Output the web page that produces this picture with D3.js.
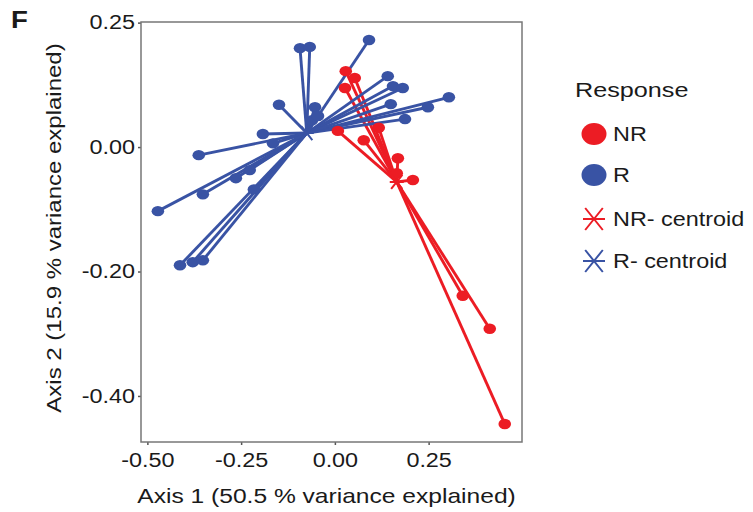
<!DOCTYPE html>
<html>
<head>
<meta charset="utf-8">
<script src="https://cdn.jsdelivr.net/npm/d3@7"></script>
<style>
  body { margin: 0; background: #fff; }
  text { font-family: "Liberation Sans", Arial, Helvetica, sans-serif; fill: #1a1a1a; }
</style>
</head>
<body>
<div id="chart"></div>
<script>
// PCoA ordination, points joined to their group centroid

// R (responders) coordinates
var rX = [-0.093, -0.067, -0.149, -0.053, -0.192, -0.165, -0.363, -0.227, -0.264, -0.352,
          -0.472, -0.216, -0.413, -0.379, -0.352, 0.091, 0.141, 0.155, 0.181, 0.304,
          0.248, 0.149, 0.187, -0.061, -0.045];
var rY = [0.159, 0.161, 0.068, 0.064, 0.021, 0.006, -0.013, -0.037, -0.050, -0.076,
          -0.103, -0.068, -0.190, -0.185, -0.182, 0.172, 0.114, 0.098, 0.095, 0.080,
          0.064, 0.069, 0.045, 0.043, 0.050];

// NR (non responders) coordinates
var nrX = [0.029, 0.053, 0.027, 0.117, 0.008, 0.077, 0.168, 0.165, 0.208, 0.341, 0.413, 0.453];
var nrY = [0.122, 0.111, 0.095, 0.031, 0.026, 0.011, -0.018, -0.042, -0.053, -0.239, -0.292, -0.445];

// centroids
var rCentroid = [-0.075, 0.0225];
var nrCentroid = [0.165, -0.056];

var xTickValues = [-0.5, -0.25, 0, 0.25];
var xTickLabels = ["-0.50", "-0.25", "0.00", "0.25"];
var yTickValues = [0.2, 0, -0.2, -0.4];
var yTickLabels = ["0.25", "0.00", "-0.20", "-0.40"];

var legendLabels = ["NR", "R", "NR- centroid", "R- centroid"];

var red = "#ec1c24";
var blue = "#3953a4";
var sx = 1.2; // text in the figure is stretched horizontally

var svgWidth = 753;
var svgHeight = 512;
var margin = {top: 22, left: 141};
var width = 381;
var height = 420;

var svg = d3.select("#chart")
  .append("svg")
  .attr("width", svgWidth)
  .attr("height", svgHeight);

var chartGroup = svg.append("g")
  .attr("transform", `translate(${margin.left}, ${margin.top})`);

var xScale = d3.scaleLinear().domain([-0.517, 0.499]).range([0, width]);
var yScale = d3.scaleLinear().domain([0.201, -0.474]).range([0, height]);

// axes
var bottomAxis = d3.axisBottom(xScale)
  .tickValues(xTickValues)
  .tickFormat((d, i) => xTickLabels[i])
  .tickSize(3).tickPadding(4);
var leftAxis = d3.axisLeft(yScale)
  .tickValues(yTickValues)
  .tickFormat((d, i) => yTickLabels[i])
  .tickSize(3).tickPadding(3);

var xAxis = chartGroup.append("g")
  .attr("transform", `translate(0, ${height})`)
  .call(bottomAxis);
var yAxis = chartGroup.append("g").call(leftAxis);

[xAxis, yAxis].forEach(function(ax) {
  ax.select(".domain").remove();
  ax.selectAll(".tick line").attr("stroke", "#555").attr("stroke-width", 1.5);
  ax.selectAll(".tick text")
    .style("font-size", "19.5px")
    .attr("fill", "#1a1a1a");
});
xAxis.selectAll(".tick text")
  .attr("dy", null)
  .attr("y", 25)
  .attr("transform", `scale(${sx},1)`);
yAxis.selectAll(".tick text")
  .attr("x", null)
  .attr("transform", `translate(-6,0) scale(${sx},1)`);

// panel border
chartGroup.append("rect")
  .attr("width", width)
  .attr("height", height)
  .attr("fill", "none")
  .attr("stroke", "#777")
  .attr("stroke-width", 1.5);

var nrData = nrX.map((x, i) => ({x: x, y: nrY[i]}));
var rData = rX.map((x, i) => ({x: x, y: rY[i]}));

// spokes to centroids
function spokes(data, c, colour) {
  chartGroup.append("g").selectAll("line")
    .data(data)
    .enter()
    .append("line")
    .attr("x1", d => xScale(d.x))
    .attr("y1", d => yScale(d.y))
    .attr("x2", xScale(c[0]))
    .attr("y2", yScale(c[1]))
    .attr("stroke", colour)
    .attr("stroke-width", 2.9);
}
spokes(nrData, nrCentroid, red);
spokes(rData, rCentroid, blue);

function points(data, colour) {
  chartGroup.append("g").selectAll("ellipse")
    .data(data)
    .enter()
    .append("ellipse")
    .attr("cx", d => xScale(d.x))
    .attr("cy", d => yScale(d.y))
    .attr("rx", 6.3)
    .attr("ry", 5.2)
    .attr("fill", colour);
}
points(nrData, red);
points(rData, blue);

// asterisk used for centroids
function star(g, cx, cy, r, colour) {
  var a = 0.8;
  g.append("path")
    .attr("d", `M${cx - r},${cy}L${cx + r},${cy}` +
      `M${cx - r * a},${cy - r}L${cx + r * a},${cy + r}` +
      `M${cx + r * a},${cy - r}L${cx - r * a},${cy + r}`)
    .attr("stroke", colour)
    .attr("stroke-width", 2)
    .attr("fill", "none");
}
star(chartGroup, xScale(nrCentroid[0]), yScale(nrCentroid[1]), 7, red);
star(chartGroup, xScale(rCentroid[0]), yScale(rCentroid[1]), 7, blue);

// axis titles
chartGroup.append("text")
  .attr("transform", `translate(${width / 2 - 5}, ${height + 61}) scale(${sx},1)`)
  .attr("text-anchor", "middle")
  .style("font-size", "20.5px")
  .text("Axis 1 (50.5 % variance explained)");

svg.append("text")
  .attr("transform", `translate(61, 228) rotate(-90) scale(${sx},1)`)
  .attr("text-anchor", "middle")
  .style("font-size", "20px")
  .text("Axis 2 (15.9 % variance explained)");

// panel letter
svg.append("text")
  .attr("transform", `translate(11, 28) scale(${sx},1)`)
  .style("font-size", "23px")
  .style("font-weight", "bold")
  .text("F");

// legend
var legend = svg.append("g").attr("transform", "translate(594, 0)");
legend.append("text")
  .attr("transform", `translate(-19, 97) scale(${sx},1)`)
  .style("font-size", "21px")
  .text("Response");

var legendY = [134, 175, 219, 261];
var legendColours = [red, blue, red, blue];
legendLabels.forEach(function(lab, i) {
  if (i < 2) {
    legend.append("ellipse")
      .attr("cx", 0)
      .attr("cy", legendY[i])
      .attr("rx", 12.5)
      .attr("ry", 11)
      .attr("fill", legendColours[i]);
  } else {
    star(legend, 0, legendY[i], 11, legendColours[i]);
  }
  legend.append("text")
    .attr("transform", `translate(19, ${legendY[i] + 7}) scale(${sx},1)`)
    .style("font-size", "19.5px")
    .text(lab);
});
</script>
</body>
</html>
